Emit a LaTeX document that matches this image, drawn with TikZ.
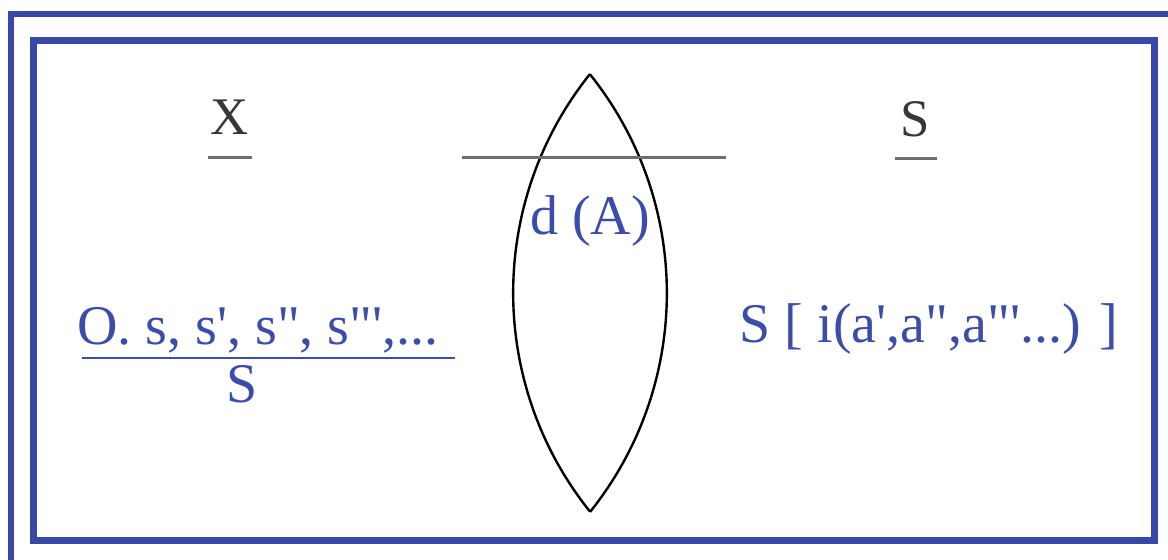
\documentclass[tikz,border=0pt]{standalone}
\usepackage{fontspec}
\setmainfont{Liberation Serif}
\usepackage{xcolor}
\usepackage{tikz}

\definecolor{frameblue}{RGB}{56,72,168}
\definecolor{textblue}{RGB}{60,76,170}
\definecolor{labelgray}{RGB}{55,55,55}
\definecolor{rulegray}{RGB}{110,110,110}

\newcommand{\qs}{\textquotesingle}
\newcommand{\qd}{\textquotedbl}

\begin{document}
\begin{tikzpicture}[x=0.5pt,y=0.5pt,
  txt/.style={font=\fontsize{28pt}{32pt}\selectfont,anchor=base,inner sep=0pt},
  bluetxt/.style={txt,text=textblue},
  graytxt/.style={txt,font=\fontsize{26.4pt}{30pt}\selectfont,text=labelgray}]

% canvas
\useasboundingbox (0,0) rectangle (1168,560);
\fill[white] (0,0) rectangle (1168,560);

% parameters
\def\lensx{590}
\def\lenstop{486}
\def\lensbot{48}

% frames
\begin{scope}
\clip (0,0) rectangle (1168,560);
\draw[frameblue,line width=3pt] (11,546) rectangle (1180,-20);
\end{scope}
\draw[frameblue,line width=3.5pt] (33.5,519) rectangle (1154,19);

% lens
\draw[black,line width=1.2pt] (\lensx,\lenstop) arc[start angle=141.3,end angle=218.7,radius=175pt];
\draw[black,line width=1.2pt] (\lensx,\lensbot) arc[start angle=-38.7,end angle=38.7,radius=175pt];

% top labels
\node[graytxt] (x) at (230,425) {X};
\node[graytxt] (s) at (915,423) {S};
\draw[rulegray,line width=1.5pt] (208,402) -- (252,402);
\draw[rulegray,line width=1.5pt] (895,401) -- (937,401);
\draw[rulegray,line width=1.5pt] (462,402) -- (726,402);

% lens label
\node[bluetxt] (d) at (590,325) {d (A)};

% left fraction
\node[bluetxt] (num) at (258,215) {O. s, s\qs, s\qd, s\qd\qs,...};
\draw[textblue,line width=1pt] (82,202) -- (455,202);
\node[bluetxt] (den) at (242,157) {S};

% right expression
\node[bluetxt] (rhs) at (929,217) {S [ i(a\qs,a\qd,a\qd\qs...) ]};

\end{tikzpicture}
\end{document}
